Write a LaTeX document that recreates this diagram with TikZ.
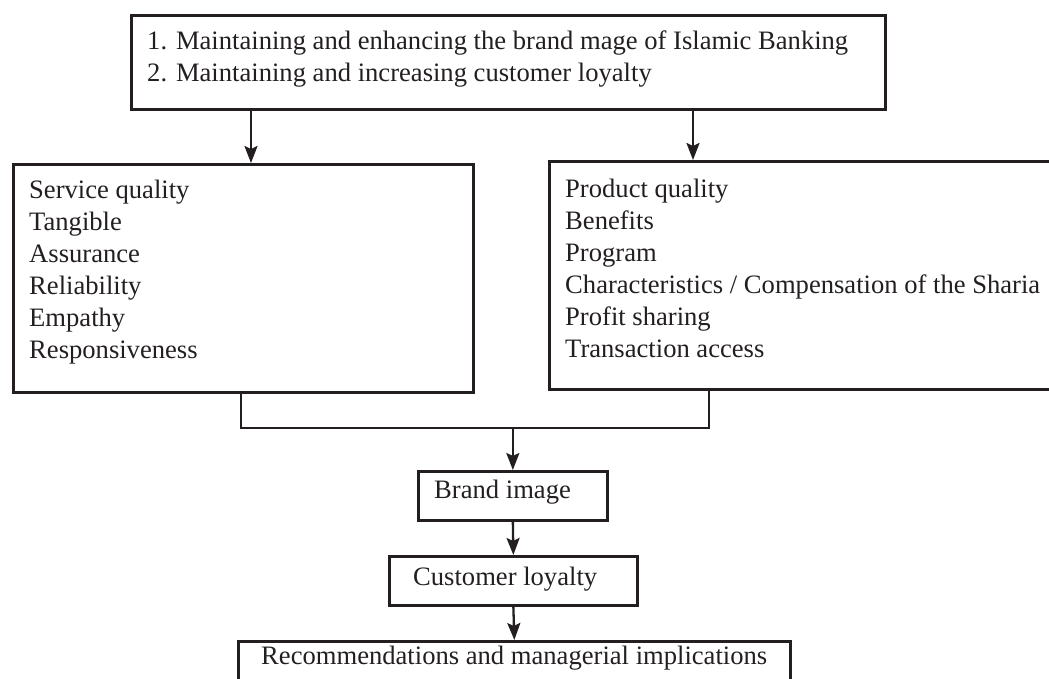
\documentclass[tikz,border=0pt]{standalone}
\usepackage{fontspec}
\setmainfont{Liberation Serif}
\usetikzlibrary{arrows.meta}
\definecolor{ink}{HTML}{231F20}
\begin{document}
\begin{tikzpicture}[x=1pt,y=-1pt,
  box/.style={draw=ink, line width=2.7pt, rectangle, inner sep=0pt, anchor=north west},
  txt/.style={inner sep=0pt, anchor=west, align=left, text=ink, font=\fontsize{26.6}{32}\selectfont},
  conn/.style={draw=ink, line width=2.3pt},
  arr/.style={conn, -{Stealth[length=17pt,width=13pt,inset=3pt]}}]
\useasboundingbox (0,0) rectangle (1049,679);
\clip (0,0) rectangle (1049,679);
% boxes
\node[box, minimum width=754pt, minimum height=94pt] (top) at (130,14) {};
\node[txt] (toptxt) at (147,59) {1. Maintaining and enhancing the brand mage of Islamic Banking\\2. Maintaining and increasing customer loyalty};
\node[box, minimum width=460pt, minimum height=228pt] (left) at (12,163) {};
\node[txt] (lefttxt) at (29,272) {Service quality\\Tangible\\Assurance\\Reliability\\Empathy\\Responsiveness};
\node[box, minimum width=560pt, minimum height=228pt] (right) at (548,160) {};
\node[txt] (righttxt) at (565,268) {Product quality\\Benefits\\Program\\Characteristics / Compensation of the Sharia\\Profit sharing\\Transaction access};
\node[box, minimum width=189pt, minimum height=49pt] (brand) at (417,470) {};
\node[txt] (brandtxt) at (434,492) {Brand image};
\node[box, minimum width=248pt, minimum height=49pt] (loyal) at (388,555) {};
\node[txt] (loyaltxt) at (413,579) {Customer loyalty};
\node[box, minimum width=552pt, minimum height=80pt] (rec) at (237,640) {};
\node[txt] (rectxt) at (261,658) {Recommendations and managerial implications};
% helper coordinates
\coordinate (xl) at (251,0);
\coordinate (xr) at (693,0);
\coordinate (ml) at (241,0);
\coordinate (mr) at (709,0);
\coordinate (jy) at (0,428);
% connectors
\draw[arr] (top.south -| xl) -- (left.north -| xl);
\draw[arr] (top.south -| xr) -- (right.north -| xr);
\draw[conn] (left.south -| ml) -- (ml |- jy) -- (mr |- jy) -- (right.south -| mr);
\draw[arr] (brand.north |- jy) -- (brand.north);
\draw[arr] (brand.south) -- (loyal.north);
\draw[arr] (loyal.south) -- (rec.north);
\end{tikzpicture}
\end{document}
